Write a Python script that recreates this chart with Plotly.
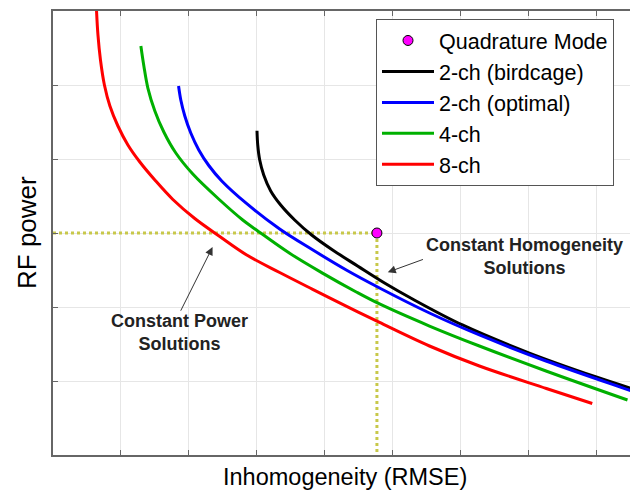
import plotly.graph_objects as go

# Data (x and y in grid units)
red_x = [0.637, 0.662, 0.699, 0.757, 0.838, 0.956, 1.103, 1.279, 1.5, 1.765, 2.088, 2.456, 2.853, 3.338, 3.824, 4.324, 4.809, 5.544, 6.279, 7.265, 7.941]
red_y = [6.08, 5.676, 5.338, 5.0, 4.716, 4.446, 4.189, 3.959, 3.716, 3.453, 3.196, 2.953, 2.703, 2.466, 2.239, 2.009, 1.791, 1.473, 1.203, 0.899, 0.696]

green_x = [1.294, 1.338, 1.397, 1.5, 1.632, 1.809, 2.059, 2.456, 2.794, 2.996, 3.485, 3.975, 4.466, 4.809, 5.544, 6.279, 7.26, 8.46]
green_y = [5.527, 5.257, 4.959, 4.649, 4.365, 4.081, 3.797, 3.446, 3.176, 3.041, 2.726, 2.455, 2.203, 2.041, 1.743, 1.473, 1.135, 0.743]

blue_x = [1.849, 1.882, 1.941, 2.029, 2.147, 2.294, 2.485, 2.849, 3.338, 3.828, 4.319, 4.809, 5.544, 6.279, 7.26, 8.584, 8.75]
blue_y = [4.986, 4.797, 4.581, 4.351, 4.122, 3.912, 3.703, 3.399, 3.054, 2.770, 2.5, 2.257, 1.919, 1.622, 1.27, 0.845, 0.79]

black_x = [3.004, 3.015, 3.044, 3.103, 3.206, 3.353, 3.559, 3.809, 4.118, 4.485, 4.882, 5.294, 6.029, 7.015, 8.0, 8.588, 8.75]
black_y = [4.382, 4.189, 3.986, 3.784, 3.568, 3.378, 3.176, 2.973, 2.770, 2.554, 2.324, 2.108, 1.757, 1.378, 1.054, 0.878, 0.831]

quad_x = [4.77]
quad_y = [3.0]

x_ticks = [0, 1, 2, 3, 4, 5, 6, 7, 8]
y_ticks = [0, 1, 2, 3, 4, 5, 6]

font_family = "Liberation Sans, Arial, sans-serif"
dot_color = "#c8c84a"

# The page body has an 8px margin, so the figure is sized/offset to land on the 638x490 window.
OFF = 8
W, H = 638 - OFF, 490 - OFF
L, R, T, B = 53 - OFF, 1, 11 - OFF, 35
PW = W - L - R
PH = H - T - B

fig = go.Figure()

# dotted guide lines through the quadrature mode point
fig.add_trace(go.Scatter(x=[0, quad_x[0]], y=[quad_y[0], quad_y[0]], mode="lines",
                         line=dict(color=dot_color, width=3, dash="dot"),
                         showlegend=False, hoverinfo="skip"))
fig.add_trace(go.Scatter(x=[quad_x[0], quad_x[0]], y=[quad_y[0], 0], mode="lines",
                         line=dict(color=dot_color, width=3, dash="dot"),
                         showlegend=False, hoverinfo="skip"))

fig.add_trace(go.Scatter(x=quad_x, y=quad_y, mode="markers", name="Quadrature Mode",
                         marker=dict(color="#ff00ff", size=10, line=dict(color="black", width=1))))
fig.add_trace(go.Scatter(x=black_x, y=black_y, mode="lines", name="2-ch (birdcage)",
                         line=dict(color="black", width=3, shape="spline", smoothing=1)))
fig.add_trace(go.Scatter(x=blue_x, y=blue_y, mode="lines", name="2-ch (optimal)",
                         line=dict(color="#0000ff", width=3, shape="spline", smoothing=1)))
fig.add_trace(go.Scatter(x=green_x, y=green_y, mode="lines", name="4-ch",
                         line=dict(color="#00b000", width=3, shape="spline", smoothing=1)))
fig.add_trace(go.Scatter(x=red_x, y=red_y, mode="lines", name="8-ch",
                         line=dict(color="#ff0000", width=3, shape="spline", smoothing=1)))

axis_common = dict(showline=True, linecolor="#666666", linewidth=1.5, mirror="ticks",
                   ticks="inside", ticklen=5, tickcolor="#666666",
                   showgrid=True, gridcolor="#e6e6e6", gridwidth=1,
                   showticklabels=False, zeroline=False, automargin=False)

fig.update_xaxes(range=[0, 8.6], tickvals=x_ticks, **axis_common)
fig.update_yaxes(range=[0, 6], tickvals=y_ticks, **axis_common)

# axis titles
fig.add_annotation(x=0.5, y=-22 / PH, xref="paper", yref="paper", text="Inhomogeneity (RMSE)",
                   showarrow=False, xanchor="center", yanchor="middle",
                   font=dict(family=font_family, size=23.5, color="black"))
fig.add_annotation(x=-(53 - 27) / PW, y=0.5, xref="paper", yref="paper", text="RF power",
                   showarrow=False, xanchor="center", yanchor="middle", textangle=-90,
                   font=dict(family=font_family, size=26, color="black"))

# callouts
ann_font = dict(family=font_family, size=18, color="#222222")
fig.add_annotation(x=1.87, y=1.65, text="<b>Constant Power<br>Solutions</b>", showarrow=False,
                   font=ann_font, xref="x", yref="y")
fig.add_annotation(x=2.35, y=2.81, ax=1.87, ay=1.93, axref="x", ayref="y", text="",
                   showarrow=True, arrowhead=2, arrowsize=1.6, arrowwidth=1, arrowcolor="#333333")
fig.add_annotation(x=6.94, y=2.68, text="<b>Constant Homogeneity<br>Solutions</b>", showarrow=False,
                   font=ann_font, xref="x", yref="y")
fig.add_annotation(x=4.93, y=2.47, ax=5.47, ay=2.65, axref="x", ayref="y", text="",
                   showarrow=True, arrowhead=2, arrowsize=1.6, arrowwidth=1, arrowcolor="#333333")

fig.update_layout(
    width=W, height=H,
    margin=dict(l=L, r=R, t=T, b=B),
    plot_bgcolor="white", paper_bgcolor="white",
    font=dict(family=font_family, color="black"),
    legend=dict(x=(376 - 53) / PW, y=1 - (19 - 11) / PH, xanchor="left", yanchor="top",
                bgcolor="white", bordercolor="#555555", borderwidth=1,
                font=dict(size=21.5, color="black"), tracegroupgap=0, itemwidth=52,
                entrywidth=185, entrywidthmode="pixels"),
)

fig.write_html("out.html")
